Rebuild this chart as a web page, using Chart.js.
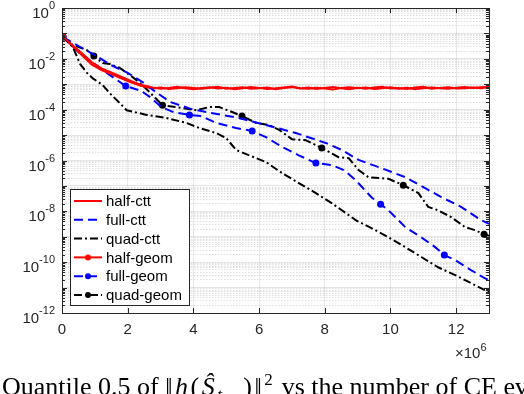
<!DOCTYPE html>
<html>
<head>
<meta charset="utf-8">
<script src="https://cdn.jsdelivr.net/npm/chart.js@4.4.1/dist/chart.umd.min.js"></script>
<style>
html, body { margin: 0; padding: 0; background: #fff; overflow: hidden; }
#wrap { position: relative; width: 524px; height: 394px; overflow: hidden; }
#cap { position: absolute; left: 2px; top: 374px; font: 26px "Liberation Serif", "Times New Roman", serif; line-height: 1; white-space: nowrap; color: #000; }
#cap .m { letter-spacing: 2.5px; }
#cap sub { font-size: 17px; vertical-align: -5px; line-height: 0; }
#cap sup { font-size: 17px; vertical-align: 10px; line-height: 0; }
</style>
</head>
<body>
<div id="wrap">
<canvas id="chart" width="524" height="394"></canvas>
<div id="cap">Quantile 0.5 of <span class="m">‖<i>h</i>(<i>Ŝ</i><sub><i>t</i>,−</sub>)‖<sup>2</sup></span> vs the number of CE evaluations</div>
</div>
<script>
// axes
const xTicks = [0, 2, 4, 6, 8, 10, 12];
const yTickExps = [0, -2, -4, -6, -8, -10, -12];
const labels = ['half-ctt', 'full-ctt', 'quad-ctt', 'half-geom', 'full-geom', 'quad-geom'];

// x in units of 1e6 evaluations
const halfX = [0.03, 0.3, 0.6, 0.9, 1.2, 1.5, 1.8, 2.1, 2.4,
    2.75, 3.0, 3.25, 3.5, 3.75, 4.0, 4.25, 4.5, 4.75, 5.0, 5.25, 5.5, 5.75, 6.0, 6.25, 6.5, 6.75, 7.0, 7.25, 7.5,
    7.75, 8.0, 8.25, 8.5, 8.75, 9.0, 9.25, 9.5, 9.75, 10.0, 10.25, 10.5, 10.75, 11.0, 11.25, 11.5, 11.75, 12.0,
    12.25, 12.5, 12.75, 13.0];
const halfCtt = [7.2e-2, 3.6e-2, 1.7e-2, 7.5e-3, 4.2e-3, 2.9e-3, 2.0e-3, 1.35e-3, 9.5e-4,
    7.4e-4, 6.6e-4, 7.2e-4, 7.9e-4, 6.9e-4, 6.3e-4, 7.1e-4, 7.6e-4, 6.8e-4, 7.3e-4, 6.4e-4, 7.0e-4, 7.8e-4, 7.2e-4,
    6.5e-4, 6.9e-4, 7.5e-4, 8.1e-4, 7.0e-4, 6.6e-4, 7.3e-4, 6.8e-4, 6.2e-4, 7.1e-4, 7.7e-4, 6.9e-4, 7.4e-4, 6.5e-4,
    7.0e-4, 7.6e-4, 6.7e-4, 7.2e-4, 6.4e-4, 6.9e-4, 7.5e-4, 7.0e-4, 6.6e-4, 7.3e-4, 7.8e-4, 7.1e-4, 7.6e-4, 8.0e-4];
const halfGeom = [7.2e-2, 3.3e-2, 1.4e-2, 6.0e-3, 3.6e-3, 2.5e-3, 1.7e-3, 1.2e-3, 8.7e-4,
    6.8e-4, 7.5e-4, 6.5e-4, 7.0e-4, 7.7e-4, 7.1e-4, 6.6e-4, 7.3e-4, 7.9e-4, 6.7e-4, 7.2e-4, 7.6e-4, 6.6e-4, 6.9e-4,
    7.4e-4, 6.3e-4, 7.1e-4, 7.7e-4, 6.8e-4, 7.4e-4, 6.5e-4, 7.2e-4, 7.8e-4, 6.9e-4, 6.4e-4, 7.3e-4, 6.7e-4, 7.5e-4,
    8.0e-4, 6.8e-4, 7.1e-4, 6.5e-4, 7.4e-4, 7.9e-4, 6.7e-4, 7.2e-4, 7.6e-4, 6.8e-4, 7.0e-4, 7.5e-4, 6.9e-4, 7.6e-4];
const halfGeomMarks = [0.03];

const fullCttX = [0.03, 0.5, 1.0, 1.5, 2.0, 2.5, 2.9, 3.3, 3.9, 4.39, 5.39, 6.21, 7.12, 8.03, 8.52, 9.03, 9.73, 10.45, 11.06, 11.55, 12.15, 12.76, 13.0];
const fullCtt = [7.2e-2, 3.2e-2, 1.4e-2, 5.6e-3, 2.8e-3, 1.1e-3, 4.5e-4, 2.0e-4, 1.1e-4, 8.1e-5, 4.7e-5, 2.5e-5, 1.2e-5, 4.9e-6, 2.6e-6, 1.05e-6, 5.0e-7, 2.2e-7, 8.1e-8, 3.6e-8, 1.5e-8, 4.5e-9, 3.2e-9];

const quadCttX = [0.03, 0.33, 0.55, 0.76, 0.94, 1.24, 1.45, 1.76, 1.97, 2.58, 3.18, 3.79, 4.18, 4.70, 5.0, 5.30, 5.70, 6.21, 6.70, 7.21, 7.73, 8.21, 8.73, 8.94, 9.42, 9.94, 10.45, 10.94, 11.45, 11.97, 12.45, 13.0];
const quadCtt = [7.2e-2, 2.9e-2, 6.3e-3, 2.8e-3, 1.7e-3, 9.3e-4, 4.5e-4, 1.8e-4, 9.5e-5, 6.2e-5, 4.7e-5, 3.0e-5, 1.9e-5, 1.2e-5, 7.6e-6, 2.6e-6, 1.6e-6, 8.7e-7, 3.2e-7, 1.3e-7, 5.2e-8, 2.1e-8, 7.1e-9, 4.5e-9, 2.2e-9, 9.5e-10, 3.9e-10, 1.6e-10, 6.3e-11, 3.1e-11, 1.5e-11, 6.6e-12];

const fullGeomX = [0.03, 0.55, 1.0, 1.36, 1.94, 2.42, 2.67, 3.03, 3.4, 3.88, 4.24, 4.7, 5.3, 5.79, 6.21, 6.70, 7.21, 7.73, 8.21, 8.58, 8.94, 9.42, 9.70, 9.94, 10.45, 10.94, 11.36, 11.64, 11.97, 12.45, 12.88, 13.0];
const fullGeom = [7.2e-2, 1.6e-2, 6.3e-3, 2.8e-3, 8.5e-4, 5.4e-4, 3.2e-4, 1.26e-4, 7.9e-5, 6.2e-5, 5.6e-5, 3.0e-5, 1.9e-5, 1.45e-5, 8.3e-6, 3.4e-6, 1.6e-6, 7.9e-7, 6.6e-7, 4.2e-7, 1.7e-7, 3.6e-8, 1.9e-8, 1.1e-8, 2.4e-9, 9.5e-10, 3.9e-10, 1.9e-10, 1.2e-10, 4.9e-11, 2.3e-11, 2.0e-11];
const fullGeomMarks = [0.03, 1.94, 3.88, 5.79, 7.73, 9.70, 11.64];

const quadGeomX = [0.03, 0.33, 0.76, 0.97, 1.24, 1.45, 1.76, 2.15, 2.45, 2.76, 3.06, 3.48, 4.09, 4.48, 4.79, 5.18, 5.48, 5.91, 6.30, 6.61, 7.0, 7.42, 7.91, 8.42, 8.73, 9.03, 9.33, 9.94, 10.39, 10.85, 11.15, 11.45, 11.85, 12.27, 12.58, 12.85, 13.0];
const quadGeom = [7.2e-2, 3.5e-2, 2.2e-2, 1.3e-2, 6.8e-3, 6.3e-3, 4.4e-3, 1.9e-3, 9.3e-4, 3.7e-4, 1.5e-4, 1.26e-4, 9.5e-5, 1.26e-4, 1.26e-4, 8.1e-5, 5.6e-5, 3.0e-5, 2.5e-5, 1.6e-5, 6.9e-6, 6.3e-6, 3.1e-6, 1.35e-6, 1.23e-6, 4.2e-7, 2.2e-7, 1.9e-7, 1.07e-7, 5.2e-8, 1.5e-8, 1.1e-8, 5.9e-9, 2.4e-9, 1.8e-9, 1.26e-9, 1.1e-9];
const quadGeomMarks = [0.03, 0.97, 3.06, 5.48, 7.91, 10.39, 12.85];

const RED = '#ff0000', BLUE = '#0000ff', BLACK = '#000000';
const DASH = [9, 5], DASHDOT = [8, 3, 2, 3];
const AX = '#262626';
const FONT = '"Liberation Sans", Arial, sans-serif';

function pts(xs, ys) {
    return xs.map((x, i) => ({ x: x, y: ys[i] }));
}

function ds(label, xs, ys, color, dash, marks) {
    return {
        label: label,
        data: pts(xs, ys),
        borderColor: color,
        backgroundColor: color,
        borderWidth: 2,
        borderDash: dash,
        marks: marks,
        pointRadius: ctx => (marks && ctx.raw && marks.includes(ctx.raw.x)) ? 3.5 : 0,
        pointBorderWidth: 0,
        pointHoverRadius: 0,
        tension: 0,
        fill: false
    };
}

// matlab style box, ticks, labels, legend
const matlabAxes = {
    id: 'matlabAxes',
    afterDraw(chart) {
        const ctx = chart.ctx;
        const a = chart.chartArea;
        const xs = chart.scales.x, ys = chart.scales.y;
        ctx.save();
        ctx.strokeStyle = AX;
        ctx.lineWidth = 1;
        ctx.setLineDash([]);
        // box
        ctx.strokeRect(Math.round(a.left) + 0.5, Math.round(a.top) + 0.5, Math.round(a.right - a.left), Math.round(a.bottom - a.top));
        // x ticks
        ctx.beginPath();
        xTicks.forEach(v => {
            const px = Math.round(xs.getPixelForValue(v)) + 0.5;
            ctx.moveTo(px, a.bottom); ctx.lineTo(px, a.bottom - 5);
            ctx.moveTo(px, a.top); ctx.lineTo(px, a.top + 5);
        });
        // y ticks
        ys.ticks.forEach(t => {
            const py = Math.round(ys.getPixelForValue(t.value)) + 0.5;
            const len = t.major ? 5 : 3;
            ctx.moveTo(a.left, py); ctx.lineTo(a.left + len, py);
            ctx.moveTo(a.right, py); ctx.lineTo(a.right - len, py);
        });
        ctx.stroke();

        // tick labels
        ctx.fillStyle = AX;
        ctx.textBaseline = 'alphabetic';
        ctx.font = '15px ' + FONT;
        ctx.textAlign = 'center';
        xTicks.forEach(v => ctx.fillText(String(v), xs.getPixelForValue(v), a.bottom + 21));

        yTickExps.forEach(e => {
            const py = ys.getPixelForValue(Math.pow(10, e));
            const ex = String(e);
            ctx.font = '11px ' + FONT;
            const ew = ctx.measureText(ex).width;
            const right = a.left - 7;
            ctx.textAlign = 'left';
            ctx.fillText(ex, right - ew, py + 1);
            ctx.font = '15px ' + FONT;
            ctx.textAlign = 'right';
            ctx.fillText('10', right - ew, py + 10);
        });

        // x multiplier
        ctx.textAlign = 'left';
        ctx.font = '15px ' + FONT;
        ctx.fillText('\u00d710', a.right - 34, a.bottom + 45);
        const mw = ctx.measureText('\u00d710').width;
        ctx.font = '11px ' + FONT;
        ctx.fillText('6', a.right - 34 + mw, a.bottom + 38);

        // legend
        const lx = 70, ly = 189, lw = 119, lh = 116;
        ctx.fillStyle = '#fff';
        ctx.fillRect(lx, ly, lw, lh);
        ctx.strokeStyle = AX;
        ctx.strokeRect(lx + 0.5, ly + 0.5, lw, lh);
        chart.data.datasets.forEach((d, i) => {
            const cy = ly + 12 + i * 18.8;
            ctx.strokeStyle = d.borderColor;
            ctx.lineWidth = 2;
            ctx.setLineDash(d.borderDash);
            ctx.beginPath();
            ctx.moveTo(74, cy); ctx.lineTo(102, cy);
            ctx.stroke();
            ctx.setLineDash([]);
            if (d.marks) {
                ctx.fillStyle = d.borderColor;
                ctx.beginPath();
                ctx.arc(88, cy, 3, 0, Math.PI * 2);
                ctx.fill();
            }
            ctx.fillStyle = '#000';
            ctx.font = '15px ' + FONT;
            ctx.textAlign = 'left';
            ctx.textBaseline = 'middle';
            ctx.fillText(d.label, 106, cy + 1);
        });
        ctx.restore();
    }
};

new Chart(document.getElementById('chart'), {
    type: 'line',
    data: {
        datasets: [
            ds(labels[0], halfX, halfCtt, RED, [], null),
            ds(labels[1], fullCttX, fullCtt, BLUE, DASH, null),
            ds(labels[2], quadCttX, quadCtt, BLACK, DASHDOT, null),
            ds(labels[3], halfX, halfGeom, RED, [], halfGeomMarks),
            ds(labels[4], fullGeomX, fullGeom, BLUE, DASH, fullGeomMarks),
            ds(labels[5], quadGeomX, quadGeom, BLACK, DASHDOT, quadGeomMarks)
        ]
    },
    options: {
        responsive: false,
        animation: false,
        events: [],
        layout: { padding: { left: 62, top: 8, right: 35, bottom: 81 } },
        plugins: { legend: { display: false }, tooltip: { enabled: false } },
        scales: {
            x: {
                type: 'linear',
                min: 0,
                max: 13,
                afterBuildTicks: s => { s.ticks = xTicks.map(v => ({ value: v })); },
                afterFit: s => { s.height = 0; },
                ticks: { display: false },
                grid: { color: 'rgba(0,0,0,0.09)', lineWidth: 1, drawTicks: false },
                border: { display: false }
            },
            y: {
                type: 'logarithmic',
                min: 1e-12,
                max: 1,
                afterBuildTicks: s => {
                    const t = [];
                    for (let e = -12; e <= 0; e++) {
                        for (let k = 1; k <= 9; k++) {
                            const v = k * Math.pow(10, e);
                            if (v <= 1) t.push({ value: v, major: k === 1 });
                        }
                    }
                    s.ticks = t;
                },
                afterFit: s => { s.width = 0; },
                ticks: { display: false },
                grid: {
                    drawTicks: false,
                    lineWidth: 1,
                    color: c => (c.tick && c.tick.major) ? 'rgba(0,0,0,0.1)' : 'rgba(0,0,0,0.13)'
                },
                border: {
                    display: false,
                    dash: c => (c.tick && c.tick.major) ? [] : [1.5, 1.5]
                }
            }
        }
    },
    plugins: [matlabAxes]
});
</script>
</body>
</html>
